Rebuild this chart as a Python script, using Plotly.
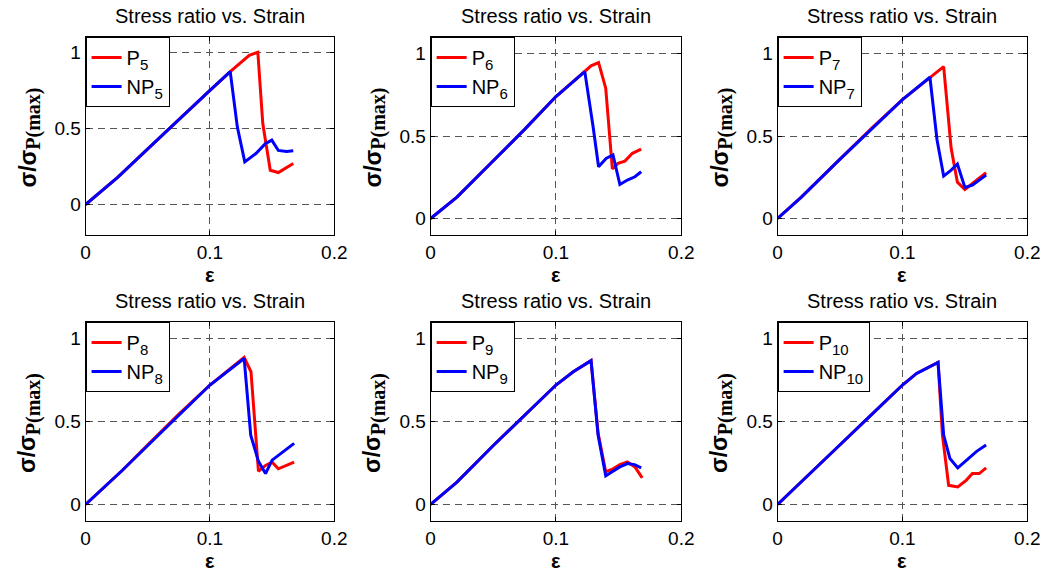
import plotly.graph_objects as go

# ---------------- data ----------------
P5_x = [0, 0.026, 0.05, 0.075, 0.1, 0.117, 0.1316, 0.1385, 0.1425, 0.1485, 0.155, 0.167]
P5_y = [0, 0.18, 0.365, 0.56, 0.75, 0.877, 0.98, 1.0, 0.53, 0.225, 0.21, 0.27]
NP5_x = [0, 0.026, 0.05, 0.075, 0.1, 0.1163, 0.122, 0.128, 0.137, 0.1445, 0.1497, 0.155, 0.1616, 0.167]
NP5_y = [0, 0.18, 0.365, 0.56, 0.75, 0.873, 0.51, 0.28, 0.335, 0.40, 0.423, 0.355, 0.348, 0.353]

P6_x = [0, 0.021, 0.05, 0.075, 0.1, 0.123, 0.128, 0.134, 0.1397, 0.145, 0.1495, 0.155, 0.161, 0.168]
P6_y = [0, 0.13, 0.35, 0.54, 0.739, 0.89, 0.925, 0.945, 0.79, 0.30, 0.334, 0.348, 0.395, 0.42]
NP6_x = [0, 0.021, 0.05, 0.075, 0.1, 0.123, 0.1296, 0.134, 0.14, 0.1455, 0.151, 0.157, 0.163, 0.168]
NP6_y = [0, 0.13, 0.35, 0.54, 0.739, 0.89, 0.557, 0.314, 0.364, 0.385, 0.206, 0.233, 0.253, 0.283]

P7_x = [0, 0.019, 0.05, 0.075, 0.1, 0.122, 0.133, 0.139, 0.144, 0.150, 0.156, 0.167]
P7_y = [0, 0.13, 0.36, 0.545, 0.72, 0.856, 0.92, 0.425, 0.22, 0.176, 0.21, 0.277]
NP7_x = [0, 0.019, 0.05, 0.075, 0.1, 0.122, 0.1277, 0.133, 0.139, 0.144, 0.150, 0.156, 0.167]
NP7_y = [0, 0.13, 0.36, 0.54, 0.72, 0.856, 0.476, 0.257, 0.293, 0.33, 0.188, 0.202, 0.263]

P8_x = [0, 0.0296, 0.05, 0.075, 0.1, 0.1275, 0.133, 0.139, 0.1447, 0.150, 0.155, 0.1677]
P8_y = [0, 0.206, 0.36, 0.545, 0.72, 0.887, 0.80, 0.20, 0.235, 0.255, 0.215, 0.255]
NP8_x = [0, 0.0296, 0.05, 0.075, 0.1, 0.1275, 0.1328, 0.139, 0.1447, 0.150, 0.159, 0.1677]
NP8_y = [0, 0.206, 0.355, 0.54, 0.72, 0.88, 0.418, 0.26, 0.186, 0.267, 0.317, 0.368]

P9_x = [0, 0.021, 0.05, 0.075, 0.1, 0.1138, 0.128, 0.1336, 0.1397, 0.1455, 0.151, 0.157, 0.163, 0.1688]
P9_y = [0, 0.135, 0.355, 0.54, 0.72, 0.80, 0.867, 0.43, 0.196, 0.215, 0.24, 0.256, 0.226, 0.16]
NP9_x = [0, 0.021, 0.05, 0.075, 0.1, 0.1138, 0.128, 0.1336, 0.1397, 0.1455, 0.151, 0.157, 0.1627, 0.168]
NP9_y = [0, 0.135, 0.355, 0.54, 0.72, 0.80, 0.867, 0.418, 0.172, 0.20, 0.226, 0.246, 0.24, 0.22]

P10_x = [0, 0.019, 0.05, 0.075, 0.1, 0.1113, 0.1285, 0.132, 0.137, 0.1443, 0.151, 0.156, 0.1615, 0.167]
P10_y = [0, 0.135, 0.36, 0.54, 0.72, 0.79, 0.857, 0.42, 0.115, 0.105, 0.145, 0.186, 0.186, 0.22]
NP10_x = [0, 0.019, 0.05, 0.075, 0.1, 0.1113, 0.1285, 0.133, 0.138, 0.1443, 0.151, 0.1594, 0.167]
NP10_y = [0, 0.135, 0.36, 0.54, 0.72, 0.79, 0.857, 0.418, 0.277, 0.22, 0.267, 0.32, 0.358]

sample_ids = ["5", "6", "7", "8", "9", "10"]
series = [
    (P5_x, P5_y, NP5_x, NP5_y),
    (P6_x, P6_y, NP6_x, NP6_y),
    (P7_x, P7_y, NP7_x, NP7_y),
    (P8_x, P8_y, NP8_x, NP8_y),
    (P9_x, P9_y, NP9_x, NP9_y),
    (P10_x, P10_y, NP10_x, NP10_y),
]
y_ranges = [[-0.2, 1.1], [-0.1, 1.1], [-0.1, 1.1], [-0.1, 1.1], [-0.1, 1.1], [-0.1, 1.1]]
x_ticks = [0, 0.1, 0.2]
x_ticktext = ["0", "0.1", "0.2"]
y_ticks = [0, 0.5, 1]
y_ticktext = ["0", "0.5", "1"]
title_text = "Stress ratio vs. Strain"

# ---------------- layout geometry (pixels) ----------------
W, H = 1058, 571
col_px = [(82, 335), (433, 688), (786, 1040)]
row_px = [(37, 235), (322, 521)]

def px_x(p):
    return p / W

def px_y(p):
    return 1 - p / H

FONT = "Liberation Sans, Arial, sans-serif"
fig = go.Figure()
annotations = []
layout = dict(
    width=W, height=H,
    margin=dict(l=0, r=0, t=0, b=0),
    paper_bgcolor="white", plot_bgcolor="white",
    font=dict(family=FONT, size=16, color="black"),
)

for i, (px_, py_, nx_, ny_) in enumerate(series):
    r, c = divmod(i, 3)
    k = "" if i == 0 else str(i + 1)
    leg = "legend" if i == 0 else f"legend{i + 1}"
    sid = sample_ids[i]
    fig.add_trace(go.Scatter(x=px_, y=py_, mode="lines",
                             name=f"P<sub><span style=\"font-size:15px\">{sid}</span></sub>",
                             line=dict(color="#FF0000", width=3),
                             xaxis=f"x{k}", yaxis=f"y{k}", legend=leg))
    fig.add_trace(go.Scatter(x=nx_, y=ny_, mode="lines",
                             name=f"NP<sub><span style=\"font-size:15px\">{sid}</span></sub>",
                             line=dict(color="#0000FF", width=3),
                             xaxis=f"x{k}", yaxis=f"y{k}", legend=leg))
    x0, x1 = col_px[c]
    y0, y1 = row_px[r]
    axcommon = dict(showline=True, linecolor="black", linewidth=1, mirror="ticks",
                    ticks="inside", ticklen=4, tickcolor="black",
                    showgrid=True, gridcolor="#555555", griddash="7px,5px", gridwidth=1,
                    zeroline=False, tickfont=dict(family=FONT, size=19, color="black"))
    layout[f"xaxis{k}"] = dict(domain=[px_x(x0), px_x(x1)], range=[0, 0.2],
                               tickvals=x_ticks, ticktext=x_ticktext,
                               anchor=f"y{k}", **axcommon)
    layout[f"yaxis{k}"] = dict(domain=[px_y(y1), px_y(y0)], range=y_ranges[i],
                               tickvals=y_ticks, ticktext=y_ticktext,
                               anchor=f"x{k}", **axcommon)
    layout[leg] = dict(x=px_x(x0), y=px_y(y0), xanchor="left", yanchor="top",
                       bgcolor="white", bordercolor="black", borderwidth=1,
                       font=dict(family=FONT, size=20, color="black"),
                       tracegroupgap=0, itemwidth=30)
    cx = (x0 + x1) / 2
    annotations.append(dict(text=title_text, x=px_x(cx), y=px_y(y0 - 21),
                            xref="paper", yref="paper", showarrow=False,
                            xanchor="center", yanchor="middle",
                            font=dict(family=FONT, size=20, color="black")))
    annotations.append(dict(text="<b>ε</b>", x=px_x(cx), y=px_y(y1 + 40),
                            xref="paper", yref="paper", showarrow=False,
                            xanchor="center", yanchor="middle",
                            font=dict(family=FONT, size=20, color="black")))
    annotations.append(dict(
        text="<b>σ/σ<sub><span style=\"font-family:'Liberation Serif';font-size:20px\">P(max)</span></sub></b>",
        x=px_x(x0 - 57), y=px_y((y0 + y1) / 2 + 2),
        xref="paper", yref="paper", showarrow=False, textangle=-90,
        xanchor="center", yanchor="middle",
        font=dict(family=FONT, size=23, color="black")))

layout["annotations"] = annotations
layout["showlegend"] = True
fig.update_layout(**layout)
fig.write_html("out.html")
